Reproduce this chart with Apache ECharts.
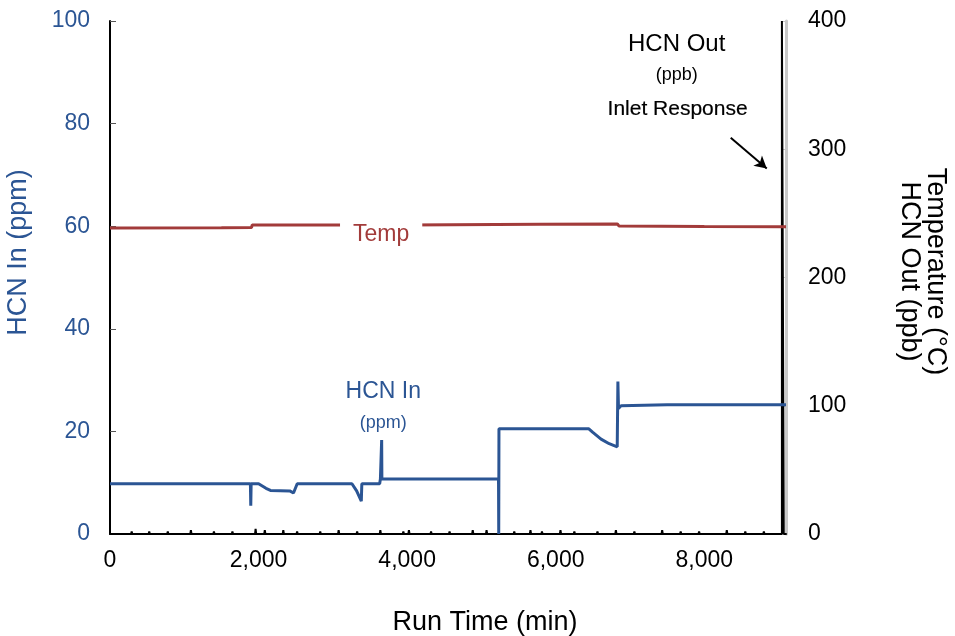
<!DOCTYPE html>
<html>
<head>
<meta charset="utf-8">
<script src="https://cdn.jsdelivr.net/npm/echarts@6/dist/echarts.min.js"></script>
<style>html,body{margin:0;padding:0;background:#fff;}#c{width:955px;height:636px;}</style>
</head>
<body>
<div id="c"></div>
<script>
// HCN In (ppm, left axis): run time (min) and value
var hcnInTime  = [0, 1890, 1895, 1900, 2000, 2100, 2160, 2420, 2470, 2520, 3257, 3320, 3383, 3390, 3630, 3640, 3654, 3657, 3660, 5230, 5233, 5236, 6446, 6500, 6610, 6720, 6828, 6837, 6845, 6880, 7500, 9100];
var hcnInValue = [9.8, 9.8, 5.5, 9.8, 9.8, 8.9, 8.5, 8.4, 8.0, 9.8, 9.8, 8.4, 6.4, 9.8, 9.8, 10.7, 10.7, 18.3, 10.7, 10.7, 0, 20.5, 20.5, 19.8, 18.5, 17.6, 17.0, 29.7, 24.5, 25.0, 25.2, 25.2];

// Temperature (°C, right axis)
var tempTime  = [0, 1500, 1905, 1915, 4000, 5800, 6830, 6850, 8000, 9100];
var tempValue = [238.6, 238.8, 239.0, 241.0, 241.0, 241.5, 241.8, 240.2, 239.8, 239.6];

// HCN Out (ppb, right axis): small spikes along baseline, then inlet response
var hcnOutSpikeTime   = [292, 528, 778, 1089, 1399, 1648, 1960, 2084, 2333, 2519, 2830, 3078, 3327, 3639, 3949, 4024, 4322, 4571, 4883, 5069, 5442, 5660, 5815, 6064, 6251, 6562, 6810, 7059, 7433, 7682, 7930, 8303, 8552, 8802];
var hcnOutSpikeHeight = [2, 2, 2, 3, 2, 2, 4, 3, 3, 2, 2, 3, 2, 3, 2, 3, 2, 2, 3, 3, 2, 3, 2, 3, 2, 2, 3, 2, 3, 2, 2, 3, 2, 2];
var inletResponseTime  = [9045, 9045, 9070, 9070, 9100];
var inletResponseValue = [0, 400, 400, 0, 0];

// axis ticks
var xTicks = [0, 2000, 4000, 6000, 8000];

var blue = '#2B5594', red = '#A23B3A';
var font = '"Liberation Sans", Arial, sans-serif';

function pairs(t, v) { return t.map(function (x, i) { return [x, v[i]]; }); }
var hcnOutData = [[0, 0]];
hcnOutSpikeTime.forEach(function (t, i) {
  hcnOutData.push([t - 8, 0], [t, hcnOutSpikeHeight[i]], [t + 8, 0]);
});
hcnOutData = hcnOutData.concat(pairs(inletResponseTime, inletResponseValue));

var chart = echarts.init(document.getElementById('c'));
chart.setOption({
  animation: false,
  textStyle: { fontFamily: font },
  grid: { left: 110, right: 169, top: 21, bottom: 102, containLabel: false, outerBoundsMode: 'none' },
  xAxis: {
    type: 'value', min: 0, max: 9100, interval: 2000,
    name: 'Run Time (min)', nameLocation: 'middle', nameGap: 75,
    nameTextStyle: { fontSize: 27, color: '#000', fontFamily: font, padding: [0, 0, 0, 74] },
    axisLine: { lineStyle: { color: '#000', width: 2 } },
    axisTick: { show: false },
    splitLine: { show: false },
    axisLabel: {
      fontSize: 23, color: '#000', margin: 15, fontFamily: font,
      formatter: function (v) { return xTicks.indexOf(v) >= 0 ? v.toLocaleString('en-US') : ''; }
    }
  },
  yAxis: [{
    type: 'value', min: 0, max: 100, interval: 20, position: 'left',
    name: 'HCN In (ppm)', nameLocation: 'middle', nameGap: 78,
    nameTextStyle: { fontSize: 27, color: blue, fontFamily: font, padding: [0, 0, 0, 50] },
    axisLine: { show: true, lineStyle: { color: '#000', width: 2 } },
    axisTick: { show: true, inside: true, length: 6, lineStyle: { color: '#555' } },
    splitLine: { show: false },
    axisLabel: { fontSize: 23, color: blue, margin: 20, fontFamily: font }
  }, {
    type: 'value', min: 0, max: 400, interval: 100, position: 'right',
    name: 'Temperature (°C)\nHCN Out (ppb)', nameLocation: 'middle', nameGap: 110, nameRotate: -90,
    nameTextStyle: { fontSize: 27, color: '#000', fontFamily: font, lineHeight: 26, padding: [0, 12, 0, 0] },
    axisLine: { show: true, lineStyle: { color: '#C8C8C8', width: 3 } },
    axisTick: { show: true, inside: true, length: 5, lineStyle: { color: '#C8C8C8' } },
    splitLine: { show: false },
    axisLabel: { fontSize: 23, color: '#000', margin: 22, fontFamily: font }
  }],
  series: [{
    name: 'HCN Out', type: 'line', yAxisIndex: 1, data: hcnOutData,
    symbol: 'none', lineStyle: { color: '#000', width: 2 }, z: 2,
    markPoint: {
      symbol: 'circle', symbolSize: 0,
      data: [
        { coord: [7628, 382], label: { show: true, position: 'inside', formatter: 'HCN Out', fontSize: 24, color: '#000', fontFamily: font } },
        { coord: [7628, 358], label: { show: true, position: 'inside', formatter: '(ppb)', fontSize: 18, color: '#000', fontFamily: font } },
        { coord: [7641, 331], label: { show: true, position: 'inside', formatter: 'Inlet Response', fontSize: 21, color: '#000', fontFamily: font, textBorderColor: '#000', textBorderWidth: 0.2 } }
      ]
    },
    markLine: {
      silent: true, symbol: ['none', 'arrow'], symbolSize: [10, 12],
      lineStyle: { color: '#000', width: 2, type: 'solid' }, label: { show: false },
      data: [[{ coord: [8356, 309] }, { coord: [8841, 285] }]]
    }
  }, {
    name: 'Temp', type: 'line', yAxisIndex: 1, data: pairs(tempTime, tempValue),
    symbol: 'none', lineStyle: { color: red, width: 3 }, z: 3,
    markPoint: {
      symbol: 'circle', symbolSize: 0, z: 10,
      data: [{ coord: [3650, 233.5], label: { show: true, position: 'inside', formatter: 'Temp', fontSize: 23, color: red, fontFamily: font, backgroundColor: '#fff', padding: [1, 13] } }]
    }
  }, {
    name: 'HCN In', type: 'line', yAxisIndex: 0, data: pairs(hcnInTime, hcnInValue),
    symbol: 'none', lineStyle: { color: blue, width: 3 }, z: 4,
    markPoint: {
      symbol: 'circle', symbolSize: 0,
      data: [
        { coord: [3679, 27.8], label: { show: true, position: 'inside', formatter: 'HCN In', fontSize: 23, color: blue, fontFamily: font } },
        { coord: [3679, 21.6], label: { show: true, position: 'inside', formatter: '(ppm)', fontSize: 18, color: blue, fontFamily: font } }
      ]
    }
  }]
});
</script>
</body>
</html>
